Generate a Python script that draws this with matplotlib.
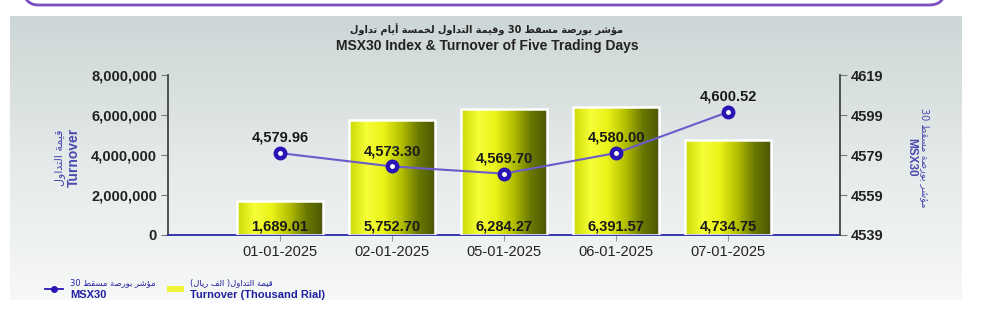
import re
import numpy as np
import matplotlib
matplotlib.use("Agg")
import matplotlib.pyplot as plt
from matplotlib.patches import Rectangle, FancyBboxPatch
from matplotlib.colors import LinearSegmentedColormap
from matplotlib.ticker import FuncFormatter

# data
dates = ["01-01-2025", "02-01-2025", "05-01-2025", "06-01-2025", "07-01-2025"]
turnover = [1689.01, 5752.70, 6284.27, 6391.57, 4734.75]  # thousand rial
msx30 = [4579.96, 4573.30, 4569.70, 4580.00, 4600.52]
left_ticks = [0, 2000000, 4000000, 6000000, 8000000]
right_ticks = [4539, 4559, 4579, 4599, 4619]

title_ar = "مؤشر بورصة مسقط 30 وقيمة التداول لخمسة أيام تداول"
title_en = "MSX30 Index & Turnover of Five Trading Days"
left_ar = "قيمة التداول"
right_ar = "مؤشر بورصة مسقط 30"
leg_bar_ar = "قيمة التداول( الف ريال)"

# arabic shaping (matplotlib has no shaping): iso, fin, ini, med
FORMS = {
    "ا": (0xFE8D, 0xFE8E, None, None), "أ": (0xFE83, 0xFE84, None, None),
    "د": (0xFEA9, 0xFEAA, None, None), "ر": (0xFEAD, 0xFEAE, None, None),
    "و": (0xFEED, 0xFEEE, None, None), "ؤ": (0xFE85, 0xFE86, None, None),
    "ة": (0xFE93, 0xFE94, None, None),
    "ب": (0xFE8F, 0xFE90, 0xFE91, 0xFE92), "ت": (0xFE95, 0xFE96, 0xFE97, 0xFE98),
    "خ": (0xFEA5, 0xFEA6, 0xFEA7, 0xFEA8), "س": (0xFEB1, 0xFEB2, 0xFEB3, 0xFEB4),
    "ش": (0xFEB5, 0xFEB6, 0xFEB7, 0xFEB8), "ص": (0xFEB9, 0xFEBA, 0xFEBB, 0xFEBC),
    "ط": (0xFEC1, 0xFEC2, 0xFEC3, 0xFEC4), "ف": (0xFED1, 0xFED2, 0xFED3, 0xFED4),
    "ق": (0xFED5, 0xFED6, 0xFED7, 0xFED8), "ل": (0xFEDD, 0xFEDE, 0xFEDF, 0xFEE0),
    "م": (0xFEE1, 0xFEE2, 0xFEE3, 0xFEE4), "ي": (0xFEF1, 0xFEF2, 0xFEF3, 0xFEF4),
}


def ar(text):
    out = []
    for i, ch in enumerate(text):
        if ch not in FORMS:
            out.append(ch)
            continue
        prev = text[i - 1] if i > 0 else ""
        nxt = text[i + 1] if i + 1 < len(text) else ""
        jp = prev in FORMS and FORMS[prev][2] is not None
        jn = FORMS[ch][2] is not None and nxt in FORMS
        f = FORMS[ch]
        if jp and jn:
            c = f[3]
        elif jp:
            c = f[1]
        elif jn:
            c = f[2]
        else:
            c = f[0]
        out.append(chr(c))
    vis = "".join(out)[::-1]
    vis = re.sub(r"[0-9]+", lambda m: m.group(0)[::-1], vis)
    vis = vis.translate(str.maketrans("()", ")("))
    return vis


plt.rcParams["font.family"] = ["Liberation Sans", "DejaVu Sans"]
AR = ["DejaVu Sans"]

fig = plt.figure(figsize=(10, 3.21), dpi=100)
fig.patch.set_facecolor("white")

# background panel
bg = fig.add_axes([0.010, 0.065, 0.952, 0.885])
grad = np.linspace(0, 1, 256)[:, None]
bg_cmap = LinearSegmentedColormap.from_list("bg", ["#cdd6d6", "#e4e9e9", "#f7f8f8"])
bg.imshow(grad, cmap=bg_cmap, aspect="auto", extent=(0, 1, 0, 1))
bg.axis("off")

# purple box edge at the top
box = FancyBboxPatch((0.22, 3.16), 9.23, 0.4, boxstyle="round,pad=0,rounding_size=0.16",
                     transform=fig.dpi_scale_trans, facecolor="none",
                     edgecolor="#7a4cc0", linewidth=2, clip_on=False)
fig.patches.append(box)

ax = fig.add_axes([0.168, 0.268, 0.672, 0.498])
ax.set_facecolor("none")
x = np.arange(len(dates))
heights = np.array(turnover) * 1000
bar_w = 0.77
bar_cmap = LinearSegmentedColormap.from_list(
    "bar", ["#cad800", "#f6ff38", "#eaf218", "#b4c000", "#6a7800", "#4a5606"])
bars = ax.bar(x, heights, width=bar_w, color="none", edgecolor="white", linewidth=1.8, zorder=3)
hgrad = np.linspace(0, 1, 256)[None, :]
for b in bars:
    x0, w, h = b.get_x(), b.get_width(), b.get_height()
    im = ax.imshow(hgrad, cmap=bar_cmap, aspect="auto", extent=(x0, x0 + w, 0, h), zorder=2)
    im.set_clip_path(Rectangle((x0, 0), w, h, transform=ax.transData))
for xi, v in zip(x, turnover):
    ax.text(xi, 60000, f"{v:,.2f}", ha="center", va="bottom", fontsize=10.5,
            fontweight="bold", color="#1a1a1a", zorder=5)

ax.set_xlim(-1, 5)
ax.set_ylim(0, 8000000)
ax.set_yticks(left_ticks)
ax.yaxis.set_major_formatter(FuncFormatter(lambda v, p: f"{v:,.0f}"))
ax.set_xticks(x)
ax.set_xticklabels(dates, fontsize=10.5, color="#222222")
for lbl in ax.get_yticklabels():
    lbl.set_fontweight("bold")
ax.tick_params(axis="y", labelsize=10.5, colors="#222222", length=5, color="#777777", pad=3)
ax.tick_params(axis="x", length=4, color="#999999", pad=3)
for s in ["top", "right"]:
    ax.spines[s].set_visible(False)
ax.spines["left"].set_color("#444444")
ax.spines["left"].set_linewidth(1.3)
ax.spines["bottom"].set_color("#2a2aa8")
ax.spines["bottom"].set_linewidth(1.3)

ax2 = ax.twinx()
ax2.set_ylim(4539, 4619)
ax2.set_yticks(right_ticks)
ax2.plot(x, msx30, color="#6a5ccc", linewidth=1.5, zorder=4)
ax2.plot(x, msx30, "o", markersize=9, markerfacecolor="#2a14b4", markeredgecolor="#2a14b4", zorder=5)
ax2.plot(x, msx30, "o", markersize=2.5, markerfacecolor="white", markeredgecolor="white", zorder=6)
for xi, v in zip(x, msx30):
    ax2.text(xi, v + 4.2, f"{v:,.2f}", ha="center", va="bottom", fontsize=10.5,
             fontweight="bold", color="#1a1a1a", zorder=6)
for s in ["top", "left", "bottom"]:
    ax2.spines[s].set_visible(False)
ax2.spines["right"].set_color("#444444")
ax2.spines["right"].set_linewidth(1.3)
ax2.tick_params(axis="y", labelsize=10.5, colors="#222222", length=5, color="#777777", pad=3)
for lbl in ax2.get_yticklabels():
    lbl.set_fontweight("bold")

# titles
fig.text(0.487, 0.908, ar(title_ar), ha="center", va="center", fontsize=7, fontweight="bold",
         family=AR, color="#222222")
fig.text(0.487, 0.857, title_en, ha="center", va="center", fontsize=10, fontweight="bold",
         color="#222222")

# axis labels
fig.text(0.060, 0.51, ar(left_ar), rotation=90, ha="center", va="center", fontsize=8,
         family=AR, color="#4a4ab0")
fig.text(0.074, 0.51, "Turnover", rotation=90, ha="center", va="center", fontsize=10,
         fontweight="bold", color="#4a4ab0")
fig.text(0.925, 0.51, ar(right_ar), rotation=270, ha="center", va="center", fontsize=7,
         family=AR, color="#4a4ab0")
fig.text(0.911, 0.51, "MSX30", rotation=270, ha="center", va="center", fontsize=8.5,
         fontweight="bold", color="#4a4ab0")

# legend
fig.lines.append(plt.Line2D([0.045, 0.063], [0.099, 0.099], color="#2a14b4", linewidth=1.3,
                            transform=fig.transFigure))
fig.lines.append(plt.Line2D([0.054], [0.099], marker="o", markersize=4, color="#2a14b4",
                            transform=fig.transFigure))
fig.text(0.070, 0.121, ar(right_ar), ha="left", va="center", fontsize=6, family=AR, color="#2020a0")
fig.text(0.070, 0.082, "MSX30", ha="left", va="center", fontsize=8, fontweight="bold", color="#2020a0")
fig.patches.append(Rectangle((0.167, 0.090), 0.017, 0.020, transform=fig.transFigure,
                             facecolor="#f2f23a", edgecolor="none"))
fig.text(0.190, 0.121, ar(leg_bar_ar), ha="left", va="center", fontsize=6, family=AR, color="#2020a0")
fig.text(0.190, 0.082, "Turnover (Thousand Rial)", ha="left", va="center", fontsize=8,
         fontweight="bold", color="#2020a0")

fig.savefig("out.png", dpi=100, facecolor="white")
